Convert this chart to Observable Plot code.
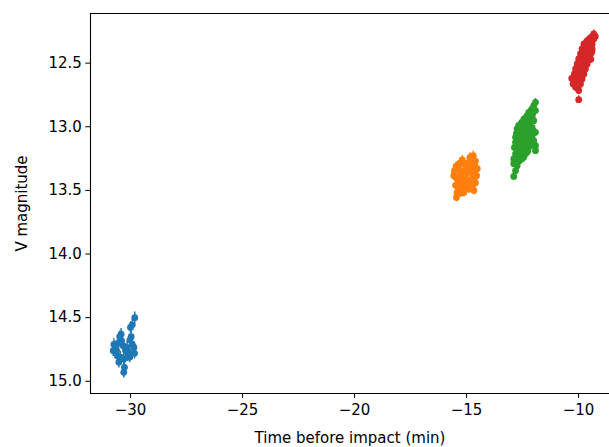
<!DOCTYPE html>
<html>
<head>
<meta charset="utf-8">
<script src="https://cdn.jsdelivr.net/npm/d3@7"></script>
<script src="https://cdn.jsdelivr.net/npm/@observablehq/plot@0.6"></script>
<style>
  html, body { margin: 0; padding: 0; background: #fff; }
  svg { display: block; }
</style>
</head>
<body>
<div id="chart"></div>
<script>
// Light curve: V magnitude vs. time before impact, four observing sets
const setColors = ["#1f77b4", "#ff7f0e", "#2ca02c", "#d62728"];
const setErrors = [0.045, 0.035, 0.03, 0.03];

const time1 = [-29.81, -29.92, -30.00, -29.97, -30.03, -30.42, -30.48, -30.74, -30.67, -30.77,
               -30.52, -30.33, -30.22, -30.15, -29.92, -29.85, -29.82, -30.59, -30.45, -30.52,
               -30.30, -30.27, -30.30, -30.08, -30.03, -30.62, -30.40, -30.12];
const mag1  = [14.50, 14.556, 14.577, 14.65, 14.676, 14.63, 14.65, 14.71, 14.73, 14.76,
               14.695, 14.72, 14.76, 14.734, 14.71, 14.734, 14.78, 14.80, 14.81, 14.85,
               14.825, 14.89, 14.93, 14.77, 14.81, 14.76, 14.68, 14.80];

const time2 = [-14.70, -14.85, -15.19, -15.30, -15.46, -15.54, -15.57, -15.42, -15.49, -15.42,
               -15.45, -15.34, -15.19, -15.04, -14.97, -14.82, -14.67, -14.60, -14.55, -14.60,
               -14.75, -14.90, -15.12, -15.27, -15.00, -15.12, -14.75, -14.67, -15.27, -14.90,
               -15.34, -14.85, -15.19, -15.04, -14.52, -15.10, -14.95, -14.80, -15.20, -15.35,
               -14.65, -15.05, -14.88, -15.25, -14.72];
const mag2  = [13.227, 13.24, 13.26, 13.285, 13.31, 13.345, 13.385, 13.41, 13.46, 13.516,
               13.555, 13.49, 13.44, 13.40, 13.36, 13.33, 13.305, 13.27, 13.385, 13.44,
               13.46, 13.49, 13.516, 13.46, 13.305, 13.345, 13.41, 13.50, 13.37, 13.28,
               13.33, 13.44, 13.476, 13.46, 13.33, 13.29, 13.31, 13.36, 13.40, 13.42,
               13.35, 13.43, 13.47, 13.52, 13.28];

const time3 = [-11.92, -12.00, -12.07, -11.92, -12.22, -12.29, -12.07, -12.44, -12.00, -12.53,
               -12.22, -12.67, -12.37, -12.07, -12.74, -12.53, -12.22, -11.92, -12.77, -12.60,
               -12.37, -12.07, -12.81, -12.62, -12.44, -12.22, -12.00, -11.92, -12.81, -12.60,
               -12.37, -12.14, -11.92, -12.86, -12.67, -12.47, -12.26, -12.81, -12.60, -12.37,
               -12.89, -12.71, -12.53, -12.89, -12.74, -12.81, -12.89, -12.15, -12.30, -12.50,
               -12.20, -12.55, -12.70, -12.30, -12.70, -12.45, -12.15, -12.05, -12.40, -12.60,
               -12.10, -12.35, -12.65, -12.25, -12.50];
const mag3  = [12.808, 12.834, 12.86, 12.873, 12.887, 12.913, 12.926, 12.94, 12.952, 12.965,
               12.965, 12.99, 12.99, 13.005, 13.017, 13.025, 13.03, 13.044, 13.052, 13.057,
               13.062, 13.07, 13.083, 13.096, 13.104, 13.11, 13.11, 13.149, 13.122, 13.135,
               13.149, 13.149, 13.188, 13.162, 13.175, 13.183, 13.188, 13.214, 13.22, 13.214,
               13.253, 13.261, 13.253, 13.29, 13.306, 13.345, 13.39, 12.90, 12.96, 13.00,
               13.08, 13.15, 13.10, 13.20, 13.22, 13.24, 13.02, 12.90, 13.04, 13.07,
               13.13, 13.12, 13.27, 13.17, 13.19];

const time4 = [-9.32, -9.46, -9.32, -9.61, -9.39, -9.76, -9.54, -9.84, -9.39, -9.64,
               -9.91, -9.46, -9.73, -9.99, -9.54, -9.79, -10.06, -9.61, -9.88, -10.13,
               -9.69, -9.94, -10.18, -9.76, -9.99, -10.21, -9.84, -10.06, -10.24, -9.91,
               -10.13, -9.99, -9.99, -9.50, -9.68, -9.60, -9.85, -9.70, -9.80, -10.00,
               -9.90, -10.10, -10.00, -10.20, -9.25, -9.40, -9.55, -10.05, -9.65, -9.95,
               -10.15, -9.85, -9.75, -10.30, -9.45];
const mag4  = [12.27, 12.30, 12.31, 12.323, 12.35, 12.35, 12.362, 12.388, 12.388, 12.40,
               12.428, 12.428, 12.44, 12.467, 12.467, 12.48, 12.506, 12.506, 12.52, 12.546,
               12.546, 12.56, 12.585, 12.585, 12.598, 12.624, 12.624, 12.645, 12.664, 12.664,
               12.69, 12.716, 12.787, 12.33, 12.37, 12.45, 12.46, 12.50, 12.56, 12.53,
               12.60, 12.61, 12.68, 12.66, 12.29, 12.41, 12.40, 12.57, 12.47, 12.49,
               12.63, 12.53, 12.42, 12.62, 12.47];

const xTicks = [-30, -25, -20, -15, -10];
const yTicks = [12.5, 13.0, 13.5, 14.0, 14.5, 15.0];
const xDomain = [-31.786, -8.616];
const yDomain = [12.11, 15.096];

const sets = [[time1, mag1], [time2, mag2], [time3, mag3], [time4, mag4]].map(([t, m], i) =>
  t.map((x, j) => ({x, y: m[j], err: setErrors[i]}))
);

const marks = [];
sets.forEach((rows, i) => {
  marks.push(Plot.ruleX(rows, {x: "x", y1: d => d.y - d.err, y2: d => d.y + d.err,
    stroke: setColors[i], strokeWidth: 1.5}));
  marks.push(Plot.dot(rows, {x: "x", y: "y", r: 3.4, fill: setColors[i], stroke: "none"}));
});

// axes spines (left, top, bottom)
marks.push(Plot.ruleX([xDomain[0]], {stroke: "#000", strokeWidth: 1.1}));
marks.push(Plot.ruleY(yDomain, {stroke: "#000", strokeWidth: 1.1}));

// axis titles
marks.push(Plot.text(["Time before impact (min)"], {frameAnchor: "bottom", dy: 45,
  lineAnchor: "middle", fontSize: 15, fill: "#000"}));
marks.push(Plot.text(["V magnitude"], {frameAnchor: "left", dx: -68, rotate: -90,
  lineAnchor: "middle", textAnchor: "middle", fontSize: 15, fill: "#000"}));

const chart = Plot.plot({
  width: 609,
  height: 447,
  marginLeft: 90,
  marginRight: 0,
  marginTop: 13,
  marginBottom: 54,
  style: {fontFamily: "DejaVu Sans", fontSize: "15px", color: "#000", background: "#fff"},
  x: {domain: xDomain, ticks: xTicks, tickFormat: d3.format("d"), tickSize: 4.7, tickPadding: 6, label: null},
  y: {domain: yDomain, reverse: true, ticks: yTicks, tickFormat: d3.format(".1f"), tickSize: 4.7, tickPadding: 4, label: null},
  marks
});
document.getElementById("chart").appendChild(chart);
</script>
</body>
</html>
